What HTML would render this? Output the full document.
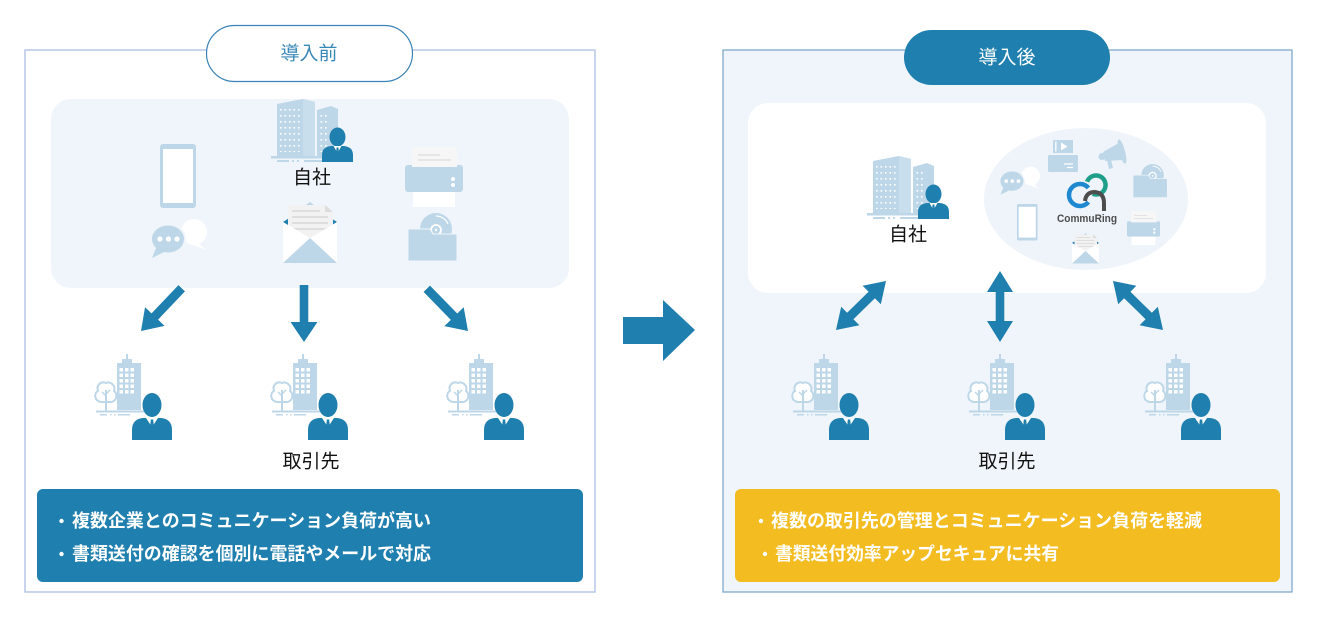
<!DOCTYPE html>
<html><head><meta charset="utf-8">
<style>
html,body{margin:0;padding:0;background:#fff;}
svg{display:block;}
text{font-family:"Liberation Sans","Noto Sans CJK JP",sans-serif;}
</style></head>
<body>
<svg width="1318" height="618" viewBox="0 0 1318 618" xmlns="http://www.w3.org/2000/svg">
<defs>
  <pattern id="dots" x="280" y="109" width="4.5" height="6" patternUnits="userSpaceOnUse">
    <rect width="1.6" height="1.6" fill="#fff"/>
  </pattern>
  <pattern id="win" x="119.5" y="368" width="5.5" height="5.5" patternUnits="userSpaceOnUse">
    <rect width="3.5" height="3.5" fill="#fff"/>
  </pattern>

  <!-- office building + person -->
  <g id="office">
    <polygon points="277,104 303,99 315,102 315,157 277,157" fill="#bdd7e8"/>
    <polygon points="303,99 315,102 315,157 303,157" fill="#c8deec"/>
    <polygon points="317,110 331,106 338,109 338,157 317,157" fill="#bdd7e8"/>
    <rect x="280" y="109" width="21" height="43" fill="url(#dots)"/>
    <rect x="320" y="113" width="9" height="39" fill="url(#dots)"/>
    <rect x="271" y="156" width="82" height="2.5" fill="#bdd7e8"/>
    <rect x="277" y="160" width="12" height="2" fill="#bdd7e8"/>
    <rect x="292" y="160" width="2" height="2" fill="#bdd7e8"/>
    <rect x="297" y="160" width="2" height="2" fill="#bdd7e8"/>
    <rect x="304" y="160" width="20" height="2" fill="#bdd7e8"/>
    <ellipse cx="337.5" cy="137" rx="8" ry="9.5" fill="#1f7fae"/>
    <path d="M322,162 L322,155 Q322,147 331,146 L344,146 Q353,147 353,155 L353,162 Z" fill="#1f7fae"/>
    <polygon points="333.5,146 341.5,146 337.5,153" fill="#fff"/>
    <polygon points="336.6,147.5 338.4,147.5 339,153 337.5,155 336,153" fill="#1f7fae"/>
  </g>

  <!-- partner: building + tree + person -->
  <g id="partner">
    <rect x="126" y="354" width="2" height="6" fill="#bdd7e8"/>
    <rect x="122" y="359" width="10" height="5" fill="#bdd7e8"/>
    <rect x="117" y="363" width="24" height="47" fill="#bdd7e8"/>
    <rect x="119.5" y="368" width="16.5" height="26" fill="url(#win)"/>
    <path d="M101,402 C94,401 94,393 98,391 C96,385 101,381 106,383 C110,381 116,385 114,391 C118,394 117,401 111,402 Z" fill="#fff" stroke="#bdd7e8" stroke-width="2"/>
    <line x1="106" y1="390" x2="106" y2="411" stroke="#bdd7e8" stroke-width="2"/>
    <line x1="106" y1="396" x2="102" y2="392" stroke="#bdd7e8" stroke-width="1.5"/>
    <line x1="106" y1="394" x2="110" y2="390" stroke="#bdd7e8" stroke-width="1.5"/>
    <line x1="96" y1="411.5" x2="149" y2="411.5" stroke="#bdd7e8" stroke-width="2"/>
    <rect x="100" y="414" width="7" height="1.5" fill="#bdd7e8"/>
    <rect x="110" y="414" width="1.5" height="1.5" fill="#bdd7e8"/>
    <rect x="114" y="414" width="1.5" height="1.5" fill="#bdd7e8"/>
    <rect x="118" y="414" width="12" height="1.5" fill="#bdd7e8"/>
    <ellipse cx="152" cy="405" rx="9.5" ry="12" fill="#1f7fae"/>
    <path d="M132,440 L132,430 Q132,419 143,418 L161,418 Q172,419 172,430 L172,440 Z" fill="#1f7fae"/>
    <polygon points="146,418 158,418 152,427" fill="#fff"/>
    <polygon points="150.8,419.5 153.2,419.5 154,428 152,431 150,428" fill="#1f7fae"/>
  </g>

  <g id="phone">
    <rect x="160" y="144" width="36" height="64" rx="3" fill="#bdd7e8"/>
    <rect x="163" y="149" width="30" height="54" fill="#fff"/>
  </g>

  <g id="chat">
    <circle cx="194" cy="232" r="13" fill="#fff"/>
    <polygon points="198,243 206,250 193,245" fill="#fff"/>
    <ellipse cx="168" cy="239" rx="17" ry="14.5" fill="#bdd7e8" stroke="#eff5fa" stroke-width="2"/>
    <polygon points="156,248 152,258 164,252" fill="#bdd7e8"/>
    <circle cx="160" cy="239" r="2.6" fill="#fff"/>
    <circle cx="168.5" cy="239" r="2.6" fill="#fff"/>
    <circle cx="177" cy="239" r="2.6" fill="#fff"/>
  </g>

  <g id="envelope">
    <polygon points="283,222 310,202 337,222" fill="#bdd7e8"/>
    <polygon points="283,222 288,219 288,226" fill="#1f7fae"/>
    <polygon points="337,222 332,219 332,226" fill="#1f7fae"/>
    <polygon points="288,205 325,205 333,212 333,242 288,242" fill="#f2f2f2"/>
    <polygon points="325,205 333,212 325,212" fill="#dcdcdc"/>
    <line x1="292" y1="211" x2="320" y2="211" stroke="#dedede" stroke-width="2"/>
    <line x1="292" y1="217" x2="328" y2="217" stroke="#dedede" stroke-width="2"/>
    <line x1="292" y1="223" x2="328" y2="223" stroke="#dedede" stroke-width="2"/>
    <line x1="292" y1="229" x2="328" y2="229" stroke="#dedede" stroke-width="2"/>
    <polygon points="283,222 310,238 337,222 337,263 283,263" fill="#fff"/>
    <polygon points="283,263 310,238 337,263" fill="#bdd7e8"/>
  </g>

  <g id="printer">
    <rect x="412" y="147" width="45" height="27" fill="#f6f6f6"/>
    <line x1="418" y1="155" x2="440" y2="155" stroke="#e0e0e0" stroke-width="1.5"/>
    <line x1="418" y1="160" x2="451" y2="160" stroke="#e0e0e0" stroke-width="1.5"/>
    <line x1="418" y1="166" x2="451" y2="166" stroke="#e0e0e0" stroke-width="1.5"/>
    <rect x="405" y="165" width="58" height="27" rx="3" fill="#bdd7e8"/>
    <rect x="412" y="163" width="45" height="4" fill="#f6f6f6"/>
    <circle cx="453" cy="179" r="2" fill="#fff"/>
    <circle cx="453" cy="185" r="2" fill="#fff"/>
    <rect x="413" y="192" width="42" height="15" fill="#fff"/>
  </g>

  <g id="folder">
    <circle cx="436" cy="229" r="16" fill="#bdd7e8"/>
    <path d="M436,216 A13,13 0 0 1 448,224" stroke="#fff" stroke-width="1.2" fill="none"/>
    <circle cx="436" cy="230" r="5" fill="none" stroke="#fff" stroke-width="1.8"/>
    <circle cx="436" cy="230" r="1.2" fill="#fff"/>
    <path d="M408,229 L430,229 L433,234 L457,234 L457,261 L408,261 Z" fill="#bdd7e8" stroke="#eff5fa" stroke-width="1"/>
  </g>
</defs>

<!-- ============ LEFT PANEL ============ -->
<rect x="25" y="50" width="570" height="542" fill="#fff" stroke="#b6c7e7" stroke-width="1.5"/>
<rect x="206.5" y="25.5" width="206" height="56" rx="28" fill="#fff" stroke="#3b83b5" stroke-width="1.2"/>
<text x="309" y="54" font-size="19" fill="#3a88b8" text-anchor="middle" dominant-baseline="central">導入前</text>

<rect x="51" y="99" width="518" height="189" rx="20" fill="#eff5fa"/>

<use href="#phone"/>
<use href="#chat"/>
<use href="#office"/>
<text x="312" y="178" font-size="19" fill="#111" text-anchor="middle" dominant-baseline="central">自社</text>
<use href="#envelope"/>
<use href="#printer"/>
<use href="#folder"/>

<!-- arrows left -->
<g fill="#1f7fae">
  <polygon transform="translate(141,331) rotate(133.6)" points="0,0 -20,-13.5 -20,-4.5 -59,-4.5 -59,4.5 -20,4.5 -20,13.5"/>
  <polygon transform="translate(304,342) rotate(90)" points="0,0 -20,-13.5 -20,-4.3 -57,-4.3 -57,4.3 -20,4.3 -20,13.5"/>
  <polygon transform="translate(468,331) rotate(45.7)" points="0,0 -20,-13.5 -20,-4.5 -59,-4.5 -59,4.5 -20,4.5 -20,13.5"/>
</g>

<use href="#partner"/>
<use href="#partner" transform="translate(176,0)"/>
<use href="#partner" transform="translate(352,0)"/>

<text x="311" y="462" font-size="19" fill="#111" text-anchor="middle" dominant-baseline="central">取引先</text>

<rect x="37" y="489" width="546" height="93" rx="6" fill="#1f7fae"/>
<circle cx="61.5" cy="521" r="2.2" fill="#fff"/>
<circle cx="61.5" cy="554" r="2.2" fill="#fff"/>
<text x="72" y="521" font-size="18" font-weight="700" fill="#fff" dominant-baseline="central" textLength="359" lengthAdjust="spacingAndGlyphs">複数企業とのコミュニケーション負荷が高い</text>
<text x="72" y="554" font-size="18" font-weight="700" fill="#fff" dominant-baseline="central" textLength="359" lengthAdjust="spacingAndGlyphs">書類送付の確認を個別に電話やメールで対応</text>

<!-- big middle arrow -->
<polygon points="623,317 663,317 663,300 695,330 663,361 663,344 623,344" fill="#1f7fae"/>

<!-- ============ RIGHT PANEL ============ -->
<rect x="723" y="50" width="569" height="542" fill="#eff5fa" stroke="#80aacb" stroke-width="1.3"/>
<rect x="904" y="30" width="206" height="55" rx="27.5" fill="#1f7fae"/>
<text x="1007" y="58" font-size="19" fill="#fff" text-anchor="middle" dominant-baseline="central">導入後</text>

<rect x="748" y="103" width="518" height="190" rx="20" fill="#fff"/>

<use href="#office" transform="translate(596,57)"/>
<text x="908" y="235" font-size="19" fill="#111" text-anchor="middle" dominant-baseline="central">自社</text>

<ellipse cx="1086" cy="199" rx="102" ry="71" fill="#eef4fa"/>

<!-- small icons in ellipse -->
<use href="#chat" transform="translate(891,9) scale(0.72)"/>
<use href="#phone" transform="translate(925.8,121.9) scale(0.57)"/>
<use href="#folder" transform="translate(847.4,14.9) scale(0.7)"/>
<use href="#printer" transform="translate(896.1,127.2) scale(0.57)"/>
<use href="#envelope" transform="translate(930.5,132) scale(0.5)"/>

<!-- video / projector -->
<rect x="1053" y="140" width="20" height="13" fill="#bdd7e8"/>
<rect x="1055" y="141.5" width="1.6" height="10" fill="#fff" opacity="0.8"/>
<polygon points="1061,142.5 1061,150.5 1067.5,146.5" fill="#fff"/>
<rect x="1048" y="155" width="30" height="17" rx="1.5" fill="#bdd7e8"/>
<line x1="1064" y1="164" x2="1073" y2="164" stroke="#fff" stroke-width="1.2"/>
<line x1="1067" y1="167.5" x2="1073" y2="167.5" stroke="#fff" stroke-width="1.2"/>

<!-- megaphone -->
<g fill="#bdd7e8">
  <polygon points="1103,152 1119,143 1123,160 1105,161"/>
  <ellipse cx="1122" cy="151.5" rx="3" ry="12.5" transform="rotate(-15 1122 151.5)"/>
  <circle cx="1102" cy="156.5" r="3.5"/>
  <polygon points="1107,160 1111,160 1113,168 1109,169"/>
</g>

<!-- CommuRing logo -->
<path d="M1088.4,187.9 A11,11 0 1 0 1088.4,202.1" fill="none" stroke="#1e88d0" stroke-width="4.5"/>
<path d="M1087.1,181.8 A9.5,9.5 0 1 1 1092.8,193.9" fill="none" stroke="#1f9e8a" stroke-width="4.5"/>
<path d="M1085,201 Q1086,192 1095,192 Q1104,193 1104,203 L1104,211" fill="none" stroke="#4d4d4d" stroke-width="4"/>
<text x="1087" y="219" font-size="11" font-weight="700" fill="#4d4d4d" text-anchor="middle" dominant-baseline="central" textLength="60" lengthAdjust="spacingAndGlyphs">CommuRing</text>

<!-- double arrows -->
<g fill="#1f7fae">
  <polygon transform="translate(861,305.5) rotate(-44.4)" points="35,0 15,-13 15,-4.5 -15,-4.5 -15,-13 -35,0 -15,13 -15,4.5 15,4.5 15,13"/>
  <polygon transform="translate(1000,306.5) rotate(90)" points="35.5,0 14.5,-13 14.5,-4.3 -14.5,-4.3 -14.5,-13 -35.5,0 -14.5,13 -14.5,4.3 14.5,4.3 14.5,13"/>
  <polygon transform="translate(1138,305.5) rotate(44.4)" points="35,0 15,-13 15,-4.5 -15,-4.5 -15,-13 -35,0 -15,13 -15,4.5 15,4.5 15,13"/>
</g>

<use href="#partner" transform="translate(697,0)"/>
<use href="#partner" transform="translate(873,0)"/>
<use href="#partner" transform="translate(1049,0)"/>

<text x="1007" y="462" font-size="19" fill="#111" text-anchor="middle" dominant-baseline="central">取引先</text>

<rect x="735" y="489" width="545" height="93" rx="6" fill="#f3bc20"/>
<circle cx="761" cy="521" r="2.2" fill="#fff"/>
<circle cx="765" cy="554" r="2.2" fill="#fff"/>
<text x="771" y="521" font-size="18" font-weight="700" fill="#fff" dominant-baseline="central" textLength="431" lengthAdjust="spacingAndGlyphs">複数の取引先の管理とコミュニケーション負荷を軽減</text>
<text x="775" y="554" font-size="18" font-weight="700" fill="#fff" dominant-baseline="central" textLength="284" lengthAdjust="spacingAndGlyphs">書類送付効率アップセキュアに共有</text>
</svg>
</body></html>
